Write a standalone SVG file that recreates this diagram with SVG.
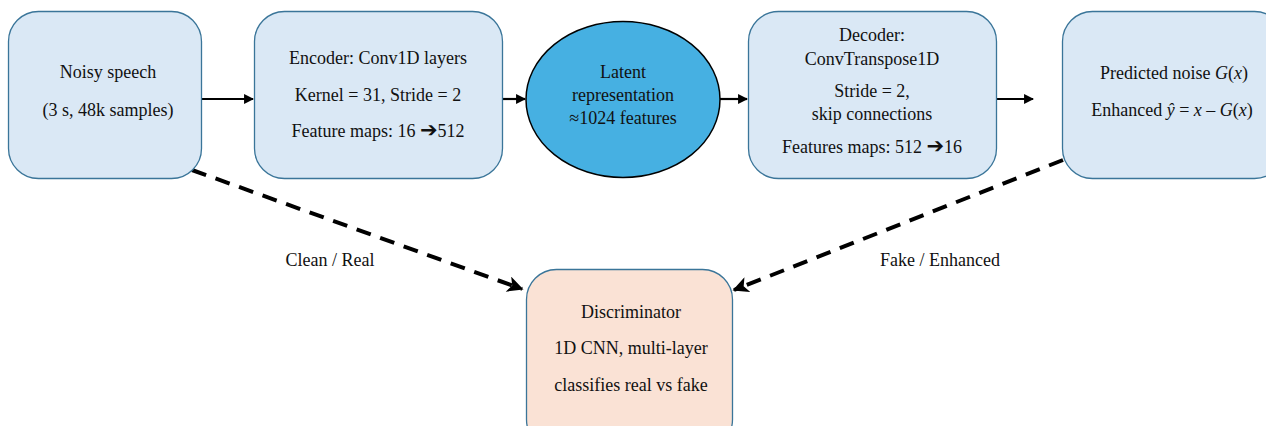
<svg xmlns="http://www.w3.org/2000/svg" width="1266" height="426" viewBox="0 0 1266 426">
<style>
.box{fill:#dae8f5;stroke:#3a7599;stroke-width:1.3}
.disc{fill:#fae2d5;stroke:#3a7599;stroke-width:1.3}
.lat{fill:#46b0e2;stroke:#000;stroke-width:1.5}
text{font-family:"Liberation Serif","Times New Roman",serif;font-size:18px;fill:#111;text-anchor:middle}
.i{font-style:italic}
.arr{font-family:"DejaVu Sans",sans-serif;font-size:21px;font-weight:bold}
.sol{stroke:#000;stroke-width:2.2;fill:none}
.dash{stroke:#000;stroke-width:4;fill:none;stroke-dasharray:15 10}
</style>
<defs>
<marker id="ah" viewBox="0 0 10 10" refX="9" refY="5" markerWidth="5" markerHeight="4.5" orient="auto" markerUnits="strokeWidth">
<path d="M0,0 L10,5 L0,10 z" fill="#000"/>
</marker>
<marker id="ahd" viewBox="0 0 10 10" refX="9" refY="5" markerWidth="4.2" markerHeight="4" orient="auto" markerUnits="strokeWidth">
<path d="M0,0 L10,5 L0,10 L2.5,5 z" fill="#000"/>
</marker>
</defs>
<g id="connectors">
<line class="sol" x1="202" y1="99" x2="253" y2="99" marker-end="url(#ah)"/>
<line class="sol" x1="502" y1="99" x2="525" y2="99" marker-end="url(#ah)"/>
<line class="sol" x1="720" y1="99" x2="747" y2="99" marker-end="url(#ah)"/>
<line class="sol" x1="996" y1="99" x2="1033" y2="99" marker-end="url(#ah)"/>
<line class="dash" x1="192" y1="170" x2="522" y2="289" marker-end="url(#ahd)"/>
<line class="dash" x1="1063" y1="160" x2="734" y2="290" marker-end="url(#ahd)"/>
<text x="330" y="266">Clean / Real</text>
<text x="940" y="266">Fake / Enhanced</text>
</g>
<g id="noisy">
<rect class="box" x="8.5" y="11.5" width="193" height="167" rx="30"/>
<text x="108" y="78">Noisy speech</text>
<text x="108" y="116">(3 s, 48k samples)</text>
</g>
<g id="encoder">
<rect class="box" x="254.5" y="11.5" width="248" height="167" rx="30"/>
<text x="378" y="64">Encoder: Conv1D layers</text>
<text x="378" y="101">Kernel = 31, Stride = 2</text>
<text x="378" y="137">Feature maps: 16 <tspan class="arr">➔</tspan>512</text>
</g>
<g id="latent">
<ellipse class="lat" cx="623" cy="99.5" rx="97" ry="78"/>
<text x="623" y="78">Latent</text>
<text x="623" y="101">representation</text>
<text x="623" y="124">≈1024 features</text>
</g>
<g id="decoder">
<rect class="box" x="748.5" y="11.5" width="248" height="167" rx="30"/>
<text x="872" y="41">Decoder:</text>
<text x="872" y="65">ConvTranspose1D</text>
<text x="872" y="97">Stride = 2,</text>
<text x="872" y="120">skip connections</text>
<text x="872" y="153">Features maps: 512 <tspan class="arr">➔</tspan>16</text>
</g>
<g id="output">
<rect class="box" x="1062.5" y="11.5" width="222" height="167" rx="30"/>
<text x="1174" y="79">Predicted noise <tspan class="i">G</tspan>(<tspan class="i">x</tspan>)</text>
<text x="1172" y="116">Enhanced <tspan class="i">ŷ</tspan> = <tspan class="i">x</tspan> – <tspan class="i">G</tspan>(<tspan class="i">x</tspan>)</text>
</g>
<g id="discriminator">
<rect class="disc" x="526.5" y="269.5" width="206" height="180" rx="30"/>
<text x="631" y="318">Discriminator</text>
<text x="631" y="354">1D CNN, multi-layer</text>
<text x="631" y="391">classifies real vs fake</text>
</g>
</svg>
